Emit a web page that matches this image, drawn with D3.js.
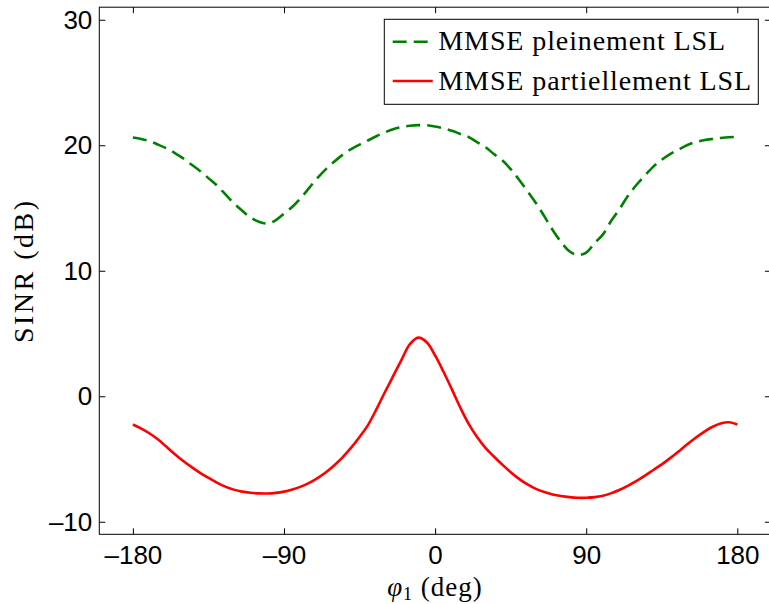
<!DOCTYPE html>
<html>
<head>
<meta charset="utf-8">
<script src="https://cdn.jsdelivr.net/npm/d3@7"></script>
<style>
  body { margin: 0; background: #fff; }
  svg { display: block; }
</style>
</head>
<body>
<svg id="canvas" width="769" height="604"></svg>
<script>
// angle phi_1 in degrees
let angles = [
  -180, -175, -170, -165, -160, -155, -150, -145, -140, -135, -130, -125,
  -120, -115, -110, -105, -100, -95, -90, -85, -80, -75, -70, -65,
  -60, -55, -50, -45, -40, -35, -30, -25, -20, -15, -10, -5,
  0, 5, 10, 15, 20, 25, 30, 35, 40, 45, 50, 55,
  60, 65, 70, 75, 80, 85, 90, 95, 100, 105, 110, 115,
  120, 125, 130, 135, 140, 145, 150, 155, 160, 165, 170, 175, 180
]

// SINR (dB), MMSE pleinement LSL
let sinrFull = [
  20.62, 20.5, 20.32, 20.05, 19.75, 19.38, 18.95, 18.45, 17.95, 17.38, 16.8, 16.1,
  15.4, 14.8, 14.25, 13.9, 13.76, 14.02, 14.55, 15.1, 15.8, 16.6, 17.4, 18.1,
  18.7, 19.25, 19.7, 20.05, 20.38, 20.72, 21.02, 21.28, 21.45, 21.55, 21.6, 21.6,
  21.5, 21.35, 21.15, 20.9, 20.65, 20.25, 19.85, 19.3, 18.8, 18.1, 17.25, 16.35,
  15.4, 14.35, 13.25, 12.3, 11.55, 11.25, 11.45, 12.2, 12.9, 14.0, 14.95, 16.0,
  16.85, 17.6, 18.3, 18.85, 19.3, 19.65, 20.0, 20.25, 20.4, 20.5, 20.58, 20.64, 20.66
]

// SINR (dB), MMSE partiellement LSL
let sinrPartial = [
  -2.25, -2.58, -2.97, -3.45, -4.03, -4.62, -5.16, -5.65, -6.1, -6.5, -6.88, -7.2,
  -7.44, -7.6, -7.69, -7.74, -7.75, -7.7, -7.6, -7.43, -7.2, -6.9, -6.52, -6.06,
  -5.5, -4.85, -4.1, -3.25, -2.3, -1.05, 0.3, 1.6, 2.9, 4.15, 4.67, 4.3,
  3.25, 1.95, 0.55, -0.9, -2.2, -3.25, -4.12, -4.8, -5.45, -6.05, -6.58, -7.03,
  -7.38, -7.63, -7.82, -7.95, -8.04, -8.09, -8.09, -8.04, -7.92, -7.72, -7.45, -7.12,
  -6.75, -6.33, -5.88, -5.43, -4.93, -4.4, -3.85, -3.33, -2.86, -2.45, -2.17, -2.07, -2.25
]

let xTicks = [-180, -90, 0, 90, 180]
let yTicks = [-10, 0, 10, 20, 30]
let legendLabels = ['MMSE pleinement LSL', 'MMSE partiellement LSL']

let canvas = d3.select('#canvas')

// plot box (right edge falls just outside the window, as in the figure)
let plotLeft = 99.3, plotRight = 770.9, plotTop = 7.2, plotBottom = 534.3

let xScale = d3.scaleLinear().domain([-200, 200]).range([plotLeft, plotRight])
let yScale = d3.scaleLinear().domain([-11, 31]).range([plotBottom, plotTop])

let fmt = d => String(d).replace('-', '\u2013')

let tickFont = '"Liberation Sans", Arial, sans-serif'
let serifFont = '"Liberation Serif", "Times New Roman", serif'

let styleAxis = (g) => {
    g.select('.domain').remove()
    g.selectAll('.tick line').attr('stroke', '#000').attr('stroke-width', 1)
    g.selectAll('.tick text')
        .attr('fill', '#000')
        .style('font-family', tickFont)
        .style('font-size', '26px')
}

canvas.append('g')
    .attr('transform', `translate(0,${plotBottom})`)
    .call(d3.axisBottom(xScale).tickValues(xTicks).tickFormat(fmt)
        .tickSizeInner(-6).tickSizeOuter(0).tickPadding(11))
    .call(styleAxis)

canvas.append('g')
    .attr('transform', `translate(0,${plotTop})`)
    .call(d3.axisTop(xScale).tickValues(xTicks).tickFormat('')
        .tickSizeInner(-6).tickSizeOuter(0))
    .call(styleAxis)

canvas.append('g')
    .attr('transform', `translate(${plotLeft},0)`)
    .call(d3.axisLeft(yScale).tickValues(yTicks).tickFormat(fmt)
        .tickSizeInner(-6).tickSizeOuter(0).tickPadding(7))
    .call(styleAxis)

canvas.append('g')
    .attr('transform', `translate(${plotRight},0)`)
    .call(d3.axisRight(yScale).tickValues(yTicks).tickFormat('')
        .tickSizeInner(-6).tickSizeOuter(0))
    .call(styleAxis)

// frame
canvas.append('rect')
    .attr('x', plotLeft).attr('y', plotTop)
    .attr('width', plotRight - plotLeft).attr('height', plotBottom - plotTop)
    .attr('fill', 'none').attr('stroke', '#000').attr('stroke-width', 1)

// curves
let line = d3.line()
    .x((d, i) => xScale(angles[i]))
    .y(d => yScale(d))
    .curve(d3.curveCatmullRom)

canvas.append('path')
    .datum(sinrFull)
    .attr('d', line)
    .attr('fill', 'none')
    .attr('stroke', '#008000')
    .attr('stroke-width', 2.6)
    .attr('stroke-dasharray', '14,7')

canvas.append('path')
    .datum(sinrPartial)
    .attr('d', line)
    .attr('fill', 'none')
    .attr('stroke', '#ff0000')
    .attr('stroke-width', 2.6)

// axis labels
canvas.append('text')
    .attr('x', 435).attr('y', 596)
    .attr('text-anchor', 'middle')
    .style('font-family', serifFont)
    .style('font-size', '27px')
    .style('letter-spacing', '1px')
    .html('<tspan font-style="italic">\u03c6</tspan><tspan font-size="18px" dy="4">1</tspan><tspan dy="-4"> (deg)</tspan>')

canvas.append('text')
    .attr('transform', `translate(33,${(plotTop + plotBottom) / 2}) rotate(-90)`)
    .attr('text-anchor', 'middle')
    .style('font-family', serifFont)
    .style('font-size', '28px')
    .style('letter-spacing', '2.5px')
    .text('SINR (dB)')

// legend
let legend = canvas.append('g')
legend.append('rect')
    .attr('x', 384.3).attr('y', 19.3)
    .attr('width', 374).attr('height', 85)
    .attr('fill', '#fff').attr('stroke', '#000').attr('stroke-width', 1)

let legendColors = ['#008000', '#ff0000']
let legendDash = ['14,7', null]
legendLabels.forEach((label, i) => {
    let ly = 41.7 + i * 39.3
    legend.append('line')
        .attr('x1', 392.7).attr('x2', 432.7)
        .attr('y1', ly).attr('y2', ly)
        .attr('stroke', legendColors[i])
        .attr('stroke-width', 2.6)
        .attr('stroke-dasharray', legendDash[i])
    legend.append('text')
        .attr('x', 438.3).attr('y', ly + 8.5)
        .style('font-family', serifFont)
        .style('font-size', '28px')
        .style('letter-spacing', '0.9px')
        .attr('fill', '#000')
        .text(label)
})
</script>
</body>
</html>
